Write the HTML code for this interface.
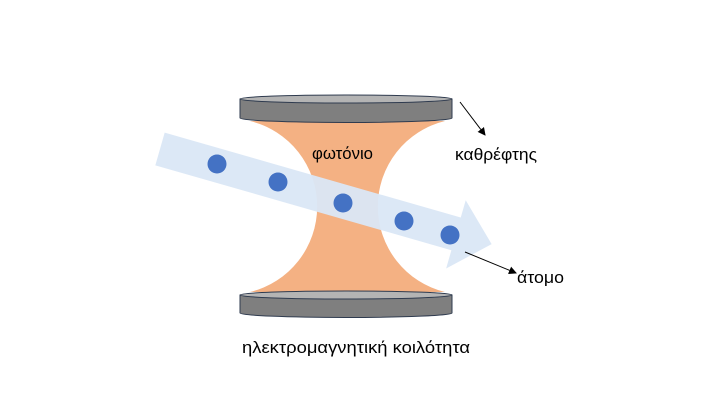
<!DOCTYPE html>
<html><head><meta charset="utf-8"><style>
html,body{margin:0;padding:0;background:#fff;}
svg{display:block;}
text{font-family:"Liberation Sans","DejaVu Sans",sans-serif;fill:#000;}
</style></head><body>
<svg width="720" height="405" viewBox="0 0 720 405" xmlns="http://www.w3.org/2000/svg">
<defs>
<marker id="ah" markerWidth="8" markerHeight="8" refX="7" refY="4" orient="auto" markerUnits="userSpaceOnUse">
<path d="M0,0 L8,4 L0,8 Z" fill="#000"/></marker>
</defs>
<path d="M250,121 L445,121 A88,88 0 0 0 445,292 L250,292 A88,88 0 0 0 250,121 Z" fill="#f4b183"/>
<g transform="translate(160,149) rotate(16)">
<polygon points="0,-17 308,-17 308,-35 345,0 308,36 308,17 0,17" fill="#dae7f5" opacity="0.95"/>
</g>
<g fill="#4472c4">
<circle cx="217" cy="164" r="9.5"/>
<circle cx="278" cy="182" r="9.5"/>
<circle cx="343" cy="203" r="9.5"/>
<circle cx="404" cy="221" r="9.5"/>
<circle cx="450" cy="235" r="9.5"/>
</g>
<path d="M240,99 L240,118 A106,4.5 0 0 0 452,118 L452,99 Z" fill="#7f7f7f" stroke="#2f3b4f" stroke-width="1"/>
<ellipse cx="346" cy="99" rx="106" ry="4" fill="#b4b4b4" stroke="#2f3b4f" stroke-width="1"/>
<path d="M240,295 L240,313 A106,4.5 0 0 0 452,313 L452,295 Z" fill="#7f7f7f" stroke="#2f3b4f" stroke-width="1"/>
<ellipse cx="346" cy="295" rx="106" ry="4" fill="#b4b4b4" stroke="#2f3b4f" stroke-width="1"/>
<text x="312" y="159" font-size="17" textLength="61" lengthAdjust="spacingAndGlyphs">φωτόνιο</text>
<text x="455" y="160" font-size="17" textLength="82" lengthAdjust="spacingAndGlyphs">καθρέφτης</text>
<text x="517" y="283" font-size="17" textLength="47" lengthAdjust="spacingAndGlyphs">άτομο</text>
<text x="242" y="353" font-size="17" textLength="228" lengthAdjust="spacingAndGlyphs">ηλεκτρομαγνητική κοιλότητα</text>
<line x1="460" y1="102" x2="485" y2="135" stroke="#000" stroke-width="1" marker-end="url(#ah)"/>
<line x1="465" y1="252" x2="516" y2="273" stroke="#000" stroke-width="1" marker-end="url(#ah)"/>
</svg>
</body></html>
